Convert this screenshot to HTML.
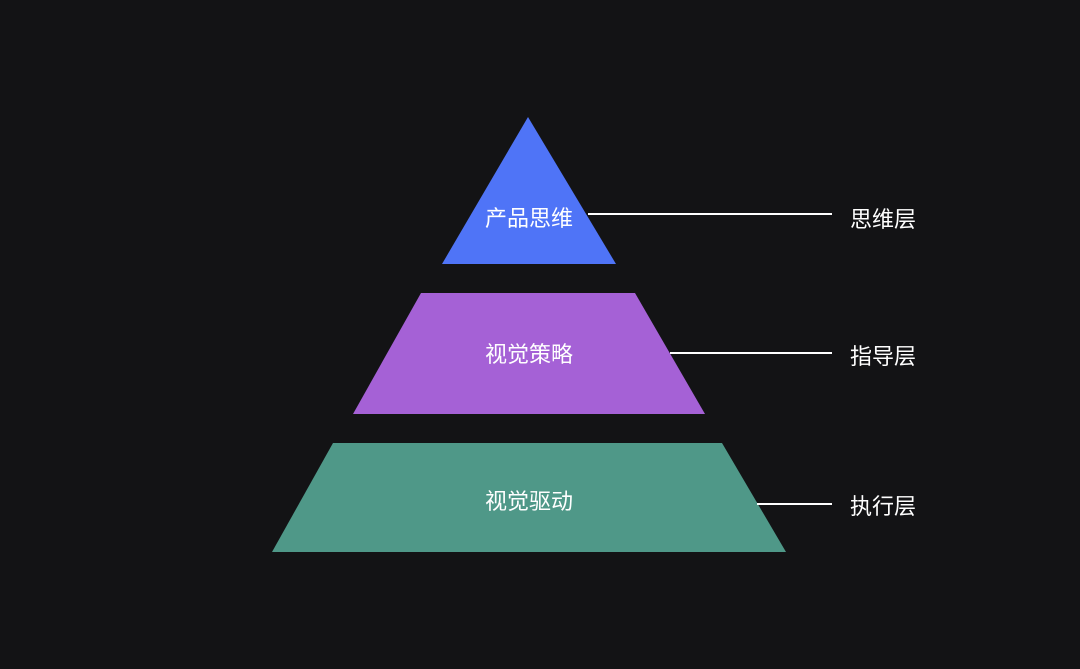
<!DOCTYPE html>
<html><head><meta charset="utf-8"><style>
html,body{margin:0;padding:0;background:#131315;}
svg{display:block}
text{font-family:"Liberation Sans","Noto Sans CJK SC",sans-serif;fill:#fff;font-size:22px}
</style></head><body>
<svg width="1080" height="669" viewBox="0 0 1080 669">
<rect width="1080" height="669" fill="#131315"/>
<polygon points="528,117 616,264 442,264" fill="#4f74f7"/>
<polygon points="421,293 635,293 705,414 353,414" fill="#a561d6"/>
<polygon points="333,443 722,443 786,552 272,552" fill="#4f9888"/>
<line x1="588" y1="214" x2="832" y2="214" stroke="#fff" stroke-width="2"/>
<line x1="670" y1="353" x2="832" y2="353" stroke="#fff" stroke-width="2"/>
<line x1="757" y1="504" x2="832" y2="504" stroke="#fff" stroke-width="2"/>
<text x="529" y="226" text-anchor="middle">产品思维</text>
<text x="529" y="362" text-anchor="middle">视觉策略</text>
<text x="529" y="509" text-anchor="middle">视觉驱动</text>
<text x="850" y="227">思维层</text>
<text x="850" y="364">指导层</text>
<text x="850" y="514">执行层</text>
</svg>
</body></html>
